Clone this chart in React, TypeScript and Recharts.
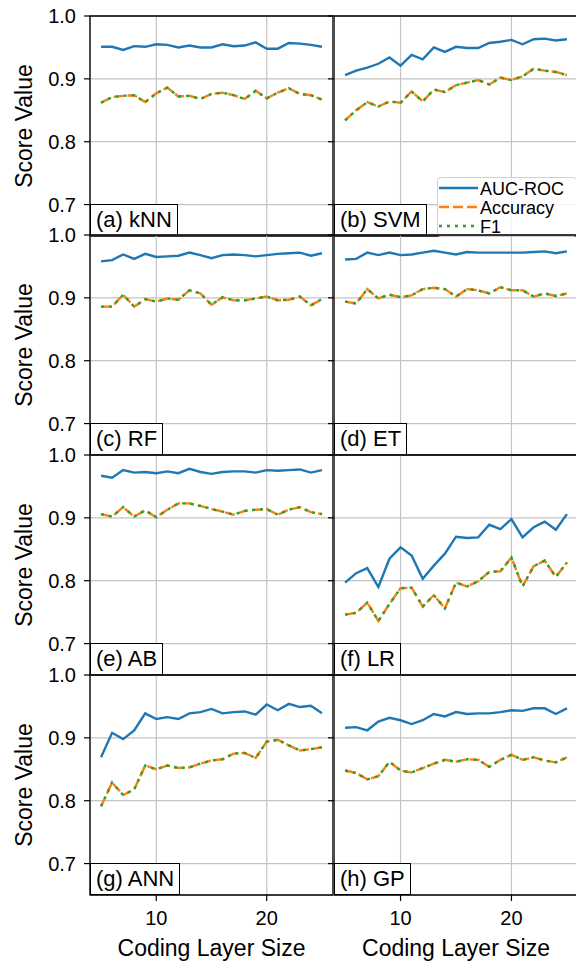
import { LineChart, Line, XAxis, YAxis, CartesianGrid, ReferenceArea } from "recharts";

const sizes = [5, 6, 7, 8, 9, 10, 11, 12, 13, 14, 15, 16, 17, 18, 19, 20, 21, 22, 23, 24, 25];

// (a) kNN
const aucKnn = [0.951, 0.951, 0.946, 0.952, 0.951, 0.955, 0.954, 0.95, 0.953, 0.95, 0.95, 0.955, 0.952, 0.953, 0.958, 0.948, 0.948, 0.957, 0.956, 0.954, 0.951];
const accKnn = [0.862, 0.871, 0.873, 0.874, 0.863, 0.877, 0.886, 0.872, 0.873, 0.868, 0.876, 0.878, 0.874, 0.868, 0.881, 0.869, 0.878, 0.885, 0.876, 0.874, 0.867];
const f1Knn = [0.862, 0.871, 0.873, 0.874, 0.863, 0.877, 0.886, 0.872, 0.873, 0.868, 0.876, 0.878, 0.874, 0.868, 0.881, 0.869, 0.878, 0.885, 0.876, 0.874, 0.867];

// (b) SVM
const aucSvm = [0.906, 0.913, 0.918, 0.924, 0.934, 0.921, 0.938, 0.931, 0.95, 0.943, 0.951, 0.949, 0.949, 0.957, 0.959, 0.962, 0.955, 0.963, 0.964, 0.961, 0.963];
const accSvm = [0.834, 0.85, 0.863, 0.856, 0.864, 0.862, 0.88, 0.864, 0.883, 0.879, 0.89, 0.894, 0.898, 0.891, 0.902, 0.898, 0.904, 0.916, 0.913, 0.911, 0.906];
const f1Svm = [0.834, 0.85, 0.863, 0.856, 0.864, 0.862, 0.88, 0.864, 0.883, 0.879, 0.89, 0.894, 0.898, 0.891, 0.902, 0.898, 0.904, 0.916, 0.913, 0.911, 0.906];

// (c) RF
const aucRf = [0.958, 0.96, 0.969, 0.962, 0.97, 0.965, 0.966, 0.967, 0.972, 0.968, 0.963, 0.968, 0.969, 0.968, 0.966, 0.968, 0.97, 0.971, 0.972, 0.967, 0.971];
const accRf = [0.886, 0.886, 0.905, 0.886, 0.898, 0.894, 0.899, 0.897, 0.912, 0.907, 0.889, 0.901, 0.896, 0.896, 0.899, 0.902, 0.896, 0.897, 0.902, 0.888, 0.898];
const f1Rf = [0.886, 0.886, 0.905, 0.886, 0.898, 0.894, 0.899, 0.897, 0.912, 0.907, 0.889, 0.901, 0.896, 0.896, 0.899, 0.902, 0.896, 0.897, 0.902, 0.888, 0.898];

// (d) ET
const aucEt = [0.961, 0.962, 0.972, 0.968, 0.972, 0.968, 0.969, 0.972, 0.975, 0.972, 0.969, 0.973, 0.972, 0.972, 0.972, 0.972, 0.972, 0.973, 0.974, 0.971, 0.974];
const accEt = [0.894, 0.891, 0.914, 0.899, 0.905, 0.901, 0.904, 0.914, 0.916, 0.914, 0.902, 0.914, 0.912, 0.907, 0.917, 0.912, 0.912, 0.902, 0.907, 0.903, 0.907];
const f1Et = [0.894, 0.891, 0.914, 0.899, 0.905, 0.901, 0.904, 0.914, 0.916, 0.914, 0.902, 0.914, 0.912, 0.907, 0.917, 0.912, 0.912, 0.902, 0.907, 0.903, 0.907];

// (e) AB
const aucAb = [0.967, 0.964, 0.976, 0.972, 0.973, 0.971, 0.974, 0.971, 0.978, 0.973, 0.97, 0.973, 0.974, 0.974, 0.972, 0.976, 0.975, 0.976, 0.977, 0.972, 0.976];
const accAb = [0.906, 0.902, 0.917, 0.902, 0.912, 0.901, 0.913, 0.923, 0.923, 0.919, 0.914, 0.91, 0.905, 0.911, 0.913, 0.914, 0.905, 0.913, 0.917, 0.909, 0.906];
const f1Ab = [0.906, 0.902, 0.917, 0.902, 0.912, 0.901, 0.913, 0.923, 0.923, 0.919, 0.914, 0.91, 0.905, 0.911, 0.913, 0.914, 0.905, 0.913, 0.917, 0.909, 0.906];

// (f) LR
const aucLr = [0.797, 0.812, 0.82, 0.79, 0.835, 0.853, 0.84, 0.803, 0.824, 0.843, 0.87, 0.868, 0.869, 0.889, 0.882, 0.898, 0.869, 0.885, 0.894, 0.881, 0.906];
const accLr = [0.746, 0.749, 0.765, 0.736, 0.763, 0.788, 0.789, 0.759, 0.777, 0.756, 0.797, 0.791, 0.799, 0.814, 0.815, 0.837, 0.791, 0.823, 0.832, 0.806, 0.829];
const f1Lr = [0.746, 0.749, 0.765, 0.736, 0.763, 0.788, 0.789, 0.759, 0.777, 0.756, 0.797, 0.791, 0.799, 0.814, 0.815, 0.837, 0.791, 0.823, 0.832, 0.806, 0.829];

// (g) ANN
const aucAnn = [0.869, 0.908, 0.898, 0.912, 0.939, 0.93, 0.933, 0.93, 0.939, 0.941, 0.946, 0.939, 0.941, 0.942, 0.937, 0.953, 0.944, 0.954, 0.949, 0.951, 0.939];
const accAnn = [0.791, 0.829, 0.809, 0.818, 0.856, 0.85, 0.856, 0.852, 0.853, 0.859, 0.864, 0.866, 0.875, 0.876, 0.868, 0.894, 0.897, 0.888, 0.88, 0.882, 0.885];
const f1Ann = [0.791, 0.829, 0.809, 0.818, 0.856, 0.85, 0.856, 0.852, 0.853, 0.859, 0.864, 0.866, 0.875, 0.876, 0.868, 0.894, 0.897, 0.888, 0.88, 0.882, 0.885];

// (h) GP
const aucGp = [0.916, 0.917, 0.912, 0.926, 0.932, 0.928, 0.922, 0.928, 0.938, 0.934, 0.941, 0.938, 0.939, 0.939, 0.941, 0.944, 0.943, 0.947, 0.947, 0.938, 0.947];
const accGp = [0.848, 0.844, 0.834, 0.839, 0.862, 0.848, 0.845, 0.852, 0.859, 0.865, 0.862, 0.866, 0.865, 0.854, 0.865, 0.873, 0.865, 0.869, 0.864, 0.861, 0.869];
const f1Gp = [0.848, 0.844, 0.834, 0.839, 0.862, 0.848, 0.845, 0.852, 0.859, 0.865, 0.862, 0.866, 0.865, 0.854, 0.865, 0.873, 0.865, 0.869, 0.864, 0.861, 0.869];

const tags = ["(a) kNN", "(b) SVM", "(c) RF", "(d) ET", "(e) AB", "(f) LR", "(g) ANN", "(h) GP"];
const aucs = [aucKnn, aucSvm, aucRf, aucEt, aucAb, aucLr, aucAnn, aucGp];
const accs = [accKnn, accSvm, accRf, accEt, accAb, accLr, accAnn, accGp];
const f1s = [f1Knn, f1Svm, f1Rf, f1Et, f1Ab, f1Lr, f1Ann, f1Gp];

const yTicks = [0.7, 0.8, 0.9, 1.0];
const xTicks = [10, 20];

const FONT = "'Liberation Sans', Arial, sans-serif";
const BLUE = "#1f77b4";
const ORANGE = "#ff7f0e";
const GREEN = "#2ca02c";
const ROW_TOP = [16, 235, 455, 675];
const PLOT_H = 220;
const PAD = 12;

// ticks stay "on" so the grid keeps its lines, but draw no label
const NoLabel = () => <g />;

function Panel({ idx }: { idx: number }) {
  const col = idx % 2;
  const row = Math.floor(idx / 2);
  const isLeft = col === 0;
  const isBottom = row === 3;
  const yW = isLeft ? 90 : 10;
  const plotW = isLeft ? 243 : 244;
  const xH = isBottom ? 40 : 2;
  const data = sizes.map((s, i) => ({ size: s, auc: aucs[idx][i], acc: accs[idx][i], f1: f1s[idx][i] }));
  const chartLeft = isLeft ? 0 : 324;

  return (
    <div style={{ position: "absolute", left: chartLeft, top: ROW_TOP[row] - PAD }}>
      <LineChart
        width={yW + plotW}
        height={PAD + PLOT_H + xH}
        data={data}
        margin={{ top: PAD, right: 0, bottom: 0, left: 0 }}
      >
        <CartesianGrid stroke="#c4c4c4" strokeWidth={1.2} />
        <XAxis
          type="number"
          dataKey="size"
          domain={[4, 26]}
          ticks={xTicks}
          interval={0}
          height={xH}
          axisLine={false}
          tickLine={isBottom ? { stroke: "#000", strokeWidth: 1.2 } : false}
          tickSize={6}
          tickMargin={10}
          tick={isBottom ? { fill: "#000", fontSize: 20, fontFamily: FONT } : NoLabel}
        />
        <YAxis
          type="number"
          domain={[0.65, 1.0]}
          ticks={yTicks}
          interval={0}
          allowDataOverflow
          width={yW}
          axisLine={false}
          tickLine={{ stroke: "#000", strokeWidth: 1.2 }}
          tickSize={6}
          tickMargin={8}
          tickFormatter={(v: number) => v.toFixed(1)}
          tick={isLeft ? { fill: "#000", fontSize: 20, fontFamily: FONT } : NoLabel}
        />
        <Line dataKey="auc" stroke={BLUE} strokeWidth={2.4} dot={false} isAnimationActive={false} />
        <Line dataKey="acc" stroke={ORANGE} strokeWidth={2.4} strokeDasharray="10 4" dot={false} isAnimationActive={false} />
        <Line dataKey="f1" stroke={GREEN} strokeWidth={2.4} strokeDasharray="3 5" dot={false} isAnimationActive={false} />
        <ReferenceArea x1={4} x2={26} y1={0.65} y2={1.0} fill="none" fillOpacity={0} stroke="#000" strokeWidth={1.3} ifOverflow="visible" />
      </LineChart>
      <div
        style={{
          position: "absolute",
          left: yW,
          top: PAD + 188,
          height: 32,
          boxSizing: "border-box",
          border: "1.3px solid #000",
          background: "#fff",
          padding: "0 5px",
          fontFamily: FONT,
          fontSize: 22,
          lineHeight: "29px",
          whiteSpace: "nowrap",
        }}
      >
        {tags[idx]}
      </div>
      {idx === 1 && (
        <svg
          width={140}
          height={60}
          style={{ position: "absolute", left: 113, top: 173, overflow: "visible" }}
        >
          <rect x={0.5} y={0.5} width={139} height={59} rx={3} fill="rgba(255,255,255,0.8)" stroke="#d0d0d0" />
          <line x1={2} x2={41} y1={11} y2={11} stroke={BLUE} strokeWidth={2.4} />
          <line x1={2} x2={41} y1={30} y2={30} stroke={ORANGE} strokeWidth={2.4} strokeDasharray="10 4" />
          <line x1={2} x2={41} y1={49} y2={49} stroke={GREEN} strokeWidth={2.4} strokeDasharray="3 5" />
          <text x={43} y={17.5} fontSize={18} fontFamily={FONT} fill="#000">AUC-ROC</text>
          <text x={43} y={36.5} fontSize={18} fontFamily={FONT} fill="#000">Accuracy</text>
          <text x={43} y={55.5} fontSize={18} fontFamily={FONT} fill="#000">F1</text>
        </svg>
      )}
    </div>
  );
}

export default function App() {
  return (
    <div
      style={{
        position: "absolute",
        left: 0,
        top: 0,
        width: 576,
        height: 961,
        overflow: "hidden",
        background: "#fff",
      }}
    >
      <svg width={576} height={961} style={{ position: "absolute", left: 0, top: 0 }}>
        {ROW_TOP.map((t) => (
          <text
            key={t}
            transform={`translate(32, ${t + PLOT_H / 2}) rotate(-90)`}
            textAnchor="middle"
            fontSize={23}
            fontFamily={FONT}
            fill="#000"
          >
            Score Value
          </text>
        ))}
        <text x={211.5} y={956} textAnchor="middle" fontSize={23} fontFamily={FONT} fill="#000">
          Coding Layer Size
        </text>
        <text x={456} y={956} textAnchor="middle" fontSize={23} fontFamily={FONT} fill="#000">
          Coding Layer Size
        </text>
      </svg>
      {tags.map((_, i) => (
        <Panel key={i} idx={i} />
      ))}
    </div>
  );
}
